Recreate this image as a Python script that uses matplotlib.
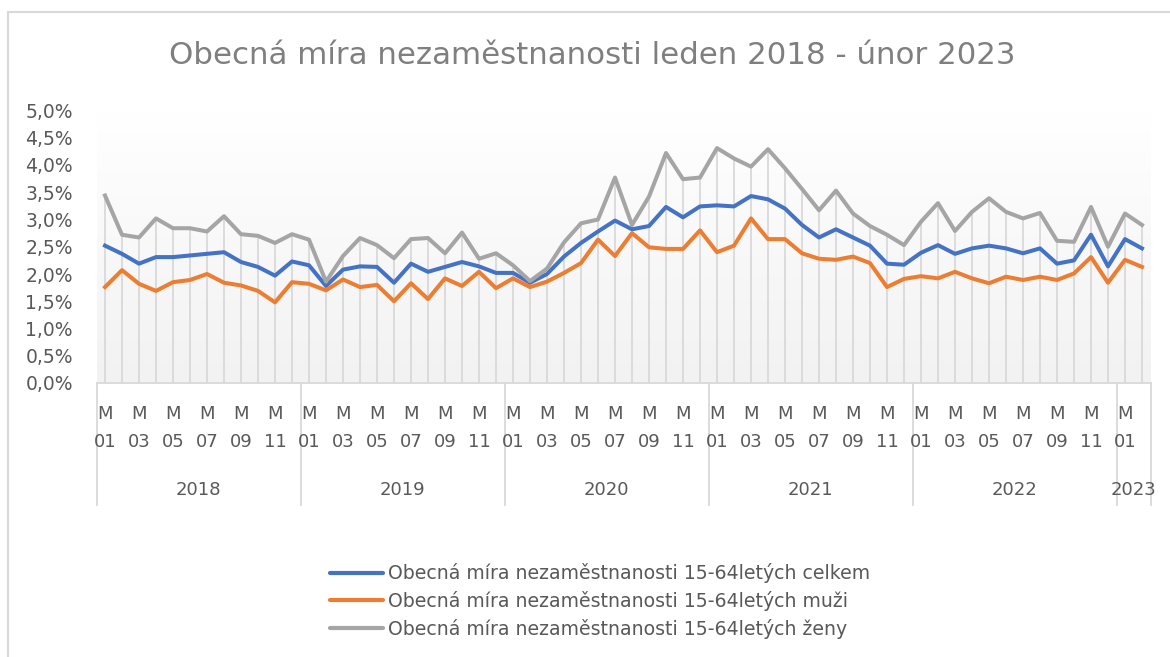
import numpy as np
import matplotlib
matplotlib.use("Agg")
import matplotlib.pyplot as plt
from matplotlib.transforms import blended_transform_factory
from matplotlib.patches import Rectangle

plt.rcParams['font.family'] = ['DejaVu Sans']

title = "Obecná míra nezaměstnanosti leden 2018 - únor 2023"
years = ["2018"] * 12 + ["2019"] * 12 + ["2020"] * 12 + ["2021"] * 12 + ["2022"] * 12 + ["2023"] * 2
months = ["M%02d" % m for m in range(1, 13)] * 5 + ["M01", "M02"]

celkem = [2.52, 2.37, 2.19, 2.31, 2.31, 2.34, 2.37, 2.40, 2.22, 2.13, 1.97, 2.23,
          2.16, 1.78, 2.08, 2.14, 2.13, 1.84, 2.19, 2.04, 2.13, 2.22, 2.14, 2.02,
          2.02, 1.84, 2.00, 2.32, 2.57, 2.78, 2.98, 2.82, 2.88, 3.23, 3.04, 3.24,
          3.26, 3.24, 3.43, 3.37, 3.20, 2.90, 2.67, 2.82, 2.67, 2.52, 2.19, 2.17,
          2.39, 2.53, 2.37, 2.47, 2.52, 2.47, 2.38, 2.47, 2.19, 2.25, 2.72, 2.14,
          2.64, 2.47]
muzi = [1.76, 2.07, 1.82, 1.69, 1.85, 1.89, 2.00, 1.84, 1.79, 1.69, 1.48, 1.85,
        1.82, 1.70, 1.90, 1.76, 1.80, 1.50, 1.83, 1.54, 1.92, 1.78, 2.04, 1.74,
        1.92, 1.76, 1.86, 2.02, 2.20, 2.63, 2.33, 2.75, 2.49, 2.46, 2.46, 2.80,
        2.40, 2.52, 3.02, 2.64, 2.64, 2.38, 2.28, 2.26, 2.32, 2.20, 1.76, 1.91,
        1.96, 1.92, 2.04, 1.92, 1.83, 1.95, 1.89, 1.95, 1.89, 2.01, 2.31, 1.84,
        2.26, 2.13]
zeny = [3.44, 2.72, 2.67, 3.02, 2.84, 2.84, 2.78, 3.06, 2.73, 2.70, 2.57, 2.73,
        2.63, 1.86, 2.33, 2.66, 2.53, 2.29, 2.64, 2.66, 2.38, 2.76, 2.28, 2.38,
        2.16, 1.87, 2.10, 2.58, 2.93, 3.00, 3.77, 2.90, 3.42, 4.22, 3.74, 3.77,
        4.31, 4.12, 3.97, 4.29, 3.94, 3.56, 3.17, 3.53, 3.11, 2.88, 2.72, 2.53,
        2.96, 3.30, 2.79, 3.14, 3.39, 3.14, 3.02, 3.12, 2.61, 2.59, 3.23, 2.50,
        3.11, 2.90]
series_names = ["Obecná míra nezaměstnanosti 15-64letých celkem",
                "Obecná míra nezaměstnanosti 15-64letých muži",
                "Obecná míra nezaměstnanosti 15-64letých ženy"]
colors = ["#4472C4", "#ED7D31", "#A5A5A5"]
yticks = [0.0, 0.5, 1.0, 1.5, 2.0, 2.5, 3.0, 3.5, 4.0, 4.5, 5.0]

W, H = 1170, 657
fig = plt.figure(figsize=(W / 100, H / 100), dpi=100)
L, R, B, T = 96.5, 1150.5, 383, 110.5
ax = fig.add_axes([L / W, 1 - B / H, (R - L) / W, (B - T) / H])

n = len(months)
x = np.arange(n)
ax.set_xlim(-0.5, n - 0.5)
ax.set_ylim(0, 5)

# gradient plot-area background
grad = np.linspace(1, 0, 256).reshape(-1, 1)
top_c = np.array([1.0, 1.0, 1.0])
bot_c = np.array([0xF2, 0xF2, 0xF2]) / 255
img = top_c * grad[..., None] + bot_c * (1 - grad[..., None])
ax.imshow(img, extent=(-0.5, n - 0.5, 0, 5), aspect='auto', zorder=0, origin='upper')

# drop lines
tops = np.maximum(np.maximum(celkem, muzi), zeny)
ax.vlines(x, 0, tops, color="#D9D9D9", lw=1.3, zorder=1)

for vals, c, name in zip([celkem, muzi, zeny], colors, series_names):
    ax.plot(x, vals, color=c, lw=2.9, label=name, zorder=3, solid_joinstyle='round')

for s in ['top', 'right', 'left']:
    ax.spines[s].set_visible(False)
ax.spines['bottom'].set_color('#D9D9D9')
ax.spines['bottom'].set_linewidth(1.3)

ax.set_yticks(yticks)
ax.set_yticklabels([("%.1f%%" % v).replace('.', ',') for v in yticks],
                   fontsize=13.5, color='#595959')
ax.tick_params(axis='y', length=0, pad=17)
ax.set_xticks([])

tr = blended_transform_factory(ax.transData, ax.transAxes)
px = 1.0 / (B - T)
for i in range(0, n, 2):
    ax.text(i, -(428 - B) * px, months[i][0] + "\n" + months[i][1:], transform=tr,
            ha='center', va='center', fontsize=13, color='#595959', linespacing=1.78)

# year labels and separators
bounds = [0]
for i in range(1, n):
    if years[i] != years[i - 1]:
        bounds.append(i)
bounds.append(n)
for a, b in zip(bounds[:-1], bounds[1:]):
    ax.text((a + b - 1) / 2, -(490 - B) * px, years[a], transform=tr,
            ha='center', va='center', fontsize=13, color='#595959')
for b in bounds:
    ax.plot([b - 0.5, b - 0.5], [0, -(505 - B) * px], transform=tr, color='#D9D9D9',
            lw=1.3, clip_on=False)

fig.text(592 / W, 1 - 55 / H, title, ha='center', va='center', fontsize=22.2, color='#7F7F7F')

leg = fig.legend(loc='center', bbox_to_anchor=(600 / W, 1 - 601 / H), frameon=False,
                 fontsize=13.6, labelcolor='#595959', handlelength=2.8, handletextpad=0.25,
                 labelspacing=0.4, borderaxespad=0)
for line in leg.get_lines():
    line.set_linewidth(3.0)
    line.set_solid_capstyle('round')

fig.patches.append(Rectangle((8 / W, -0.1), 1.2, (H - 12) / H + 0.1, transform=fig.transFigure,
                             fill=False, edgecolor='#D9D9D9', lw=1.5))

fig.savefig("out.png", dpi=100, facecolor='white')
